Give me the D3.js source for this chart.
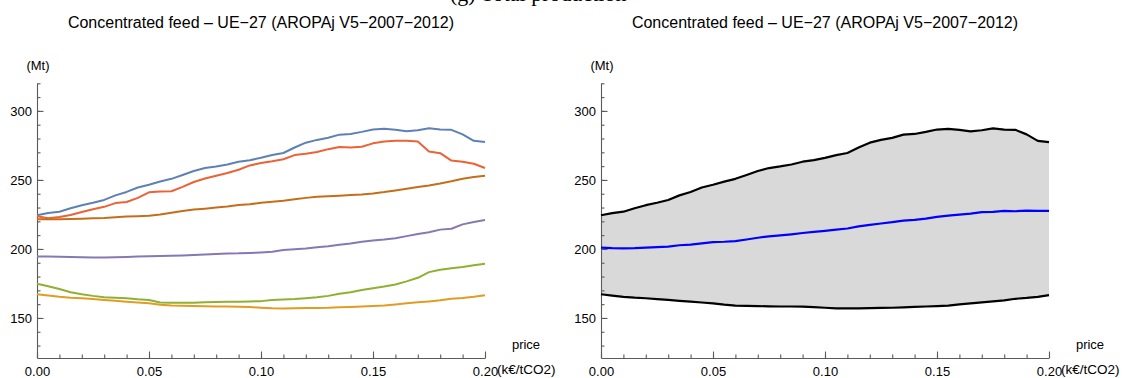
<!DOCTYPE html>
<html>
<head>
<meta charset="utf-8">
<script src="https://cdn.jsdelivr.net/npm/d3@7"></script>
<style>
  body { margin: 0; background: #fff; }
  text { font-family: Arial, "Liberation Sans", sans-serif; fill: #000; }
</style>
</head>
<body>
<svg id="chart" width="1123" height="378"></svg>
<script>
// carbon price (k€/tCO2)
const price = [0, 0.005, 0.01, 0.015, 0.02, 0.025, 0.03, 0.035, 0.04, 0.045,
  0.05, 0.055, 0.06, 0.065, 0.07, 0.075, 0.08, 0.085, 0.09, 0.095,
  0.1, 0.105, 0.11, 0.115, 0.12, 0.125, 0.13, 0.135, 0.14, 0.145,
  0.15, 0.155, 0.16, 0.165, 0.17, 0.175, 0.18, 0.185, 0.19, 0.195, 0.2];

// concentrated feed (Mt), one array per model run
const runBlue = [224.4, 226.0, 227.0, 229.5, 231.7, 233.5, 235.5, 238.8, 241.3, 244.5,
  246.5, 248.8, 250.8, 253.6, 256.5, 258.6, 259.8, 261.2, 263.2, 264.3,
  266.0, 268.0, 269.5, 273.5, 277.0, 279.0, 280.5, 282.8, 283.3, 284.8,
  286.5, 287.0, 286.3, 285.2, 286.0, 287.4, 286.5, 286.3, 283.0, 278.3, 277.4];
const runOrange = [167.2, 166.2, 165.3, 164.7, 164.3, 163.7, 163.1, 162.4, 161.8, 161.2,
  160.6, 159.6, 159.0, 158.8, 158.6, 158.4, 158.3, 158.3, 158.2, 157.9,
  157.4, 157.0, 156.9, 157.0, 157.2, 157.3, 157.4, 157.7, 158.0, 158.3,
  158.6, 159.0, 159.8, 160.6, 161.3, 162.0, 162.8, 163.9, 164.5, 165.3, 166.5];
const runGreen = [174.8, 173.0, 171.0, 168.6, 167.2, 166.0, 165.0, 164.6, 164.2, 163.5,
  163.0, 161.2, 161.1, 161.0, 161.1, 161.4, 161.6, 161.7, 161.8, 162.0,
  162.2, 163.0, 163.3, 163.7, 164.3, 165.0, 166.0, 167.5, 168.7, 170.2,
  171.6, 172.8, 174.3, 176.5, 179.1, 183.2, 185.0, 186.1, 187.0, 188.2, 189.3];
const runRed = [223.7, 222.2, 223.2, 224.6, 226.7, 228.7, 230.5, 233.2, 234.0, 237.0,
  241.0, 241.7, 241.8, 245.0, 248.5, 251.0, 253.0, 255.0, 257.4, 260.5,
  262.2, 263.5, 265.0, 268.0, 269.0, 270.3, 272.3, 273.8, 273.5, 274.0,
  276.5, 277.8, 278.3, 278.3, 277.8, 270.6, 269.4, 264.0, 263.2, 261.7, 258.6];
const runPurple = [194.5, 194.6, 194.4, 194.1, 193.9, 193.8, 193.8, 194.0, 194.2, 194.5,
  194.7, 194.9, 195.1, 195.3, 195.6, 196.0, 196.4, 196.7, 196.8, 197.1,
  197.5, 198.0, 199.2, 199.8, 200.4, 201.2, 202.0, 203.0, 204.0, 205.2,
  206.2, 206.9, 207.8, 209.3, 210.9, 212.1, 214.0, 214.6, 217.8, 219.5, 221.0];
const runBrown = [221.5, 221.6, 221.6, 221.7, 221.9, 222.2, 222.5, 223.0, 223.5, 223.7,
  224.0, 225.0, 226.3, 227.5, 228.5, 229.2, 230.0, 230.8, 231.8, 232.4,
  233.5, 234.2, 235.0, 236.0, 237.0, 237.8, 238.2, 238.6, 239.0, 239.5,
  240.2, 241.2, 242.4, 243.6, 244.9, 246.0, 247.4, 249.0, 250.8, 252.2, 253.0];

const runs = [runBlue, runOrange, runGreen, runRed, runPurple, runBrown];
const runColors = ["#5E81B5", "#E19C24", "#8FB032", "#EB6235", "#8778B3", "#C56E1A"];

const xMajorTicks = [0, 0.05, 0.1, 0.15, 0.2];
const yMajorTicks = [150, 200, 250, 300];
const titleText = "Concentrated feed \u2013 UE\u221227 (AROPAj V5\u22122007\u22122012)";

const svg = d3.select("#chart");

// cut-off caption from the page above
svg.append("text")
  .attr("x", 450).attr("y", 1)
  .style("font-family", "'Liberation Serif', 'DejaVu Serif', serif")
  .style("font-size", "22px")
  .text("(g) Total production");

const plotW = 448, plotTop = 83.3, plotBottom = 358;
const axisColor = "#5a5a5a";

function makePanel(left) {
  const x = d3.scaleLinear().domain([0, 0.2]).range([left, left + plotW]);
  const y = d3.scaleLinear().domain([121, 320]).range([plotBottom, plotTop]);
  const g = svg.append("g");

  g.append("text")
    .attr("x", left + plotW / 2).attr("y", 28.3)
    .attr("text-anchor", "middle")
    .style("font-size", "16px")
    .text(titleText);

  // minor ticks
  g.append("g")
    .attr("transform", `translate(0,${plotBottom})`)
    .call(d3.axisBottom(x).tickValues(d3.range(0, 21).map(i => i / 100))
      .tickSize(-3.5).tickSizeOuter(0).tickFormat(""))
    .call(a => a.select(".domain").remove());
  g.append("g")
    .attr("transform", `translate(${left},0)`)
    .call(d3.axisLeft(y).tickValues(d3.range(130, 321, 10))
      .tickSize(-3.5).tickSizeOuter(0).tickFormat(""))
    .call(a => a.select(".domain").remove());

  // major ticks + axis lines
  g.append("g")
    .attr("transform", `translate(0,${plotBottom})`)
    .call(d3.axisBottom(x).tickValues(xMajorTicks)
      .tickSize(-6.5).tickSizeOuter(0).tickPadding(9)
      .tickFormat(d3.format(".2f")));
  g.append("g")
    .attr("transform", `translate(${left},0)`)
    .call(d3.axisLeft(y).tickValues(yMajorTicks)
      .tickSize(-6.5).tickSizeOuter(0).tickPadding(5)
      .tickFormat(d3.format("d")));

  g.selectAll(".domain, .tick line")
    .attr("stroke", axisColor).attr("stroke-width", 1.1);
  g.selectAll(".tick text")
    .style("font-family", "Arial, 'Liberation Sans', sans-serif")
    .style("font-size", "13px").attr("fill", "#000");

  g.append("text")
    .attr("x", left + 1).attr("y", 69.5)
    .attr("text-anchor", "middle")
    .style("font-size", "13px")
    .text("(Mt)");
  g.append("text")
    .attr("x", left + plotW + 41).attr("y", 349)
    .attr("text-anchor", "middle")
    .style("font-size", "13px")
    .text("price");
  g.append("text")
    .attr("x", left + plotW + 12).attr("y", 373.5)
    .style("font-size", "13.5px")
    .text("(k\u20ac/tCO2)");

  return { x, y, g };
}

// left panel: every run
const p1 = makePanel(37);
const line1 = d3.line()
  .x((d, i) => p1.x(price[i]))
  .y(d => p1.y(d));
runs.forEach((r, k) => {
  p1.g.append("path")
    .datum(r)
    .attr("d", line1)
    .attr("fill", "none")
    .attr("stroke", runColors[k])
    .attr("stroke-width", 2)
    .attr("stroke-linejoin", "round");
});

// right panel: envelope and mean of the runs
const p2 = makePanel(601);
const stats = price.map((p, i) => {
  const vals = runs.map(r => r[i]);
  return { p, lo: d3.min(vals), hi: d3.max(vals), mean: d3.mean(vals) };
});

p2.g.insert("path", ":first-child")
  .datum(stats)
  .attr("d", d3.area().x(d => p2.x(d.p)).y0(d => p2.y(d.lo)).y1(d => p2.y(d.hi)))
  .attr("fill", "#d9d9d9");

const drawLine = (key, color) => p2.g.append("path")
  .datum(stats)
  .attr("d", d3.line().x(d => p2.x(d.p)).y(d => p2.y(d[key])))
  .attr("fill", "none")
  .attr("stroke", color)
  .attr("stroke-width", 2.2)
  .attr("stroke-linejoin", "round");

drawLine("hi", "#000");
drawLine("lo", "#000");
drawLine("mean", "#0000ff");
</script>
</body>
</html>
